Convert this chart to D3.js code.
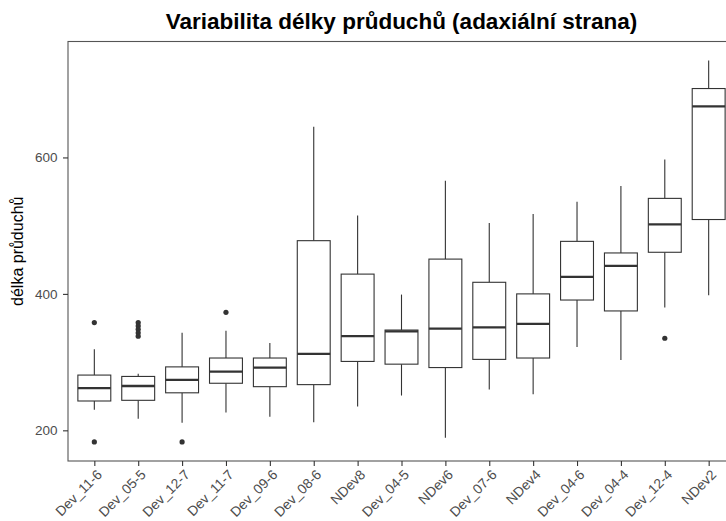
<!DOCTYPE html>
<html>
<head>
<meta charset="utf-8">
<script src="https://cdn.jsdelivr.net/npm/d3@7"></script>
<style>
  body { margin: 0; background: white; }
  text { font-family: "Liberation Sans", Arial, sans-serif; }
</style>
</head>
<body>
<script>
// box plot values
var categories = ["Dev_11-6", "Dev_05-5", "Dev_12-7", "Dev_11-7", "Dev_09-6", "Dev_08-6", "NDev8", "Dev_04-5",
                  "NDev6", "Dev_07-6", "NDev4", "Dev_04-6", "Dev_04-4", "Dev_12-4", "NDev2"];
var whiskerLow  = [230, 217, 211, 226, 220, 212, 235, 251, 189, 260, 253, 322, 303, 380, 398];
var q1          = [243, 244, 255, 269, 264, 267, 301, 297, 292, 304, 306, 391, 375, 461, 509];
var medians     = [262, 265, 274, 286, 292, 312, 338, 345, 349, 351, 356, 425, 441, 502, 675];
var q3          = [281, 279, 293, 306, 306, 478, 429, 347, 451, 417, 400, 477, 460, 540, 701];
var whiskerHigh = [319, 283, 343, 346, 328, 645, 515, 399, 566, 504, 517, 535, 558, 597, 742];
var outliers    = [[358, 183], [358, 353, 348, 343, 338], [183], [373], [], [], [], [],
                   [], [], [], [], [], [335], []];
var yTicks = [200, 400, 600];

var title = "Variabilita délky průduchů (adaxiální strana)";
var yTitle = "délka průduchů";

var w = 726, h = 521;
var panel = {left: 68, right: 735, top: 41.5, bottom: 461};

var svg = d3.select("body").append("svg")
            .attr("width", w)
            .attr("height", h);

// y range with the usual 5% expansion
var allValues = whiskerLow.concat(whiskerHigh, d3.merge(outliers));
var ext = d3.extent(allValues);
var pad = (ext[1] - ext[0]) * 0.05;
var yScale = d3.scaleLinear()
               .domain([ext[0] - pad, ext[1] + pad])
               .range([panel.bottom, panel.top]);

var xScale = d3.scalePoint()
               .domain(categories)
               .range([panel.left, panel.right])
               .padding(0.6);
var boxW = xScale.step() * 0.75;

var ink = "#333333";

// boxes
var boxes = svg.append("g").attr("class", "boxes")
  .selectAll("g")
  .data(categories)
  .enter()
  .append("g");

boxes.append("line")
  .attr("x1", d => xScale(d)).attr("x2", d => xScale(d))
  .attr("y1", (d, i) => yScale(whiskerHigh[i]))
  .attr("y2", (d, i) => yScale(q3[i]))
  .style("stroke", ink).style("stroke-width", 1.1);

boxes.append("line")
  .attr("x1", d => xScale(d)).attr("x2", d => xScale(d))
  .attr("y1", (d, i) => yScale(q1[i]))
  .attr("y2", (d, i) => yScale(whiskerLow[i]))
  .style("stroke", ink).style("stroke-width", 1.1);

boxes.append("rect")
  .attr("x", d => xScale(d) - boxW / 2)
  .attr("width", boxW)
  .attr("y", (d, i) => yScale(q3[i]))
  .attr("height", (d, i) => yScale(q1[i]) - yScale(q3[i]))
  .style("fill", "white")
  .style("stroke", ink)
  .style("stroke-width", 1.1);

boxes.append("line")
  .attr("x1", d => xScale(d) - boxW / 2).attr("x2", d => xScale(d) + boxW / 2)
  .attr("y1", (d, i) => yScale(medians[i]))
  .attr("y2", (d, i) => yScale(medians[i]))
  .style("stroke", ink).style("stroke-width", 2.3);

// outlier dots
boxes.each(function(d, i) {
  d3.select(this).selectAll("circle")
    .data(outliers[i])
    .enter()
    .append("circle")
    .attr("cx", xScale(d))
    .attr("cy", v => yScale(v))
    .attr("r", 2.6)
    .style("fill", ink);
});

// panel border
svg.append("rect")
   .attr("x", panel.left)
   .attr("y", panel.top)
   .attr("width", panel.right - panel.left)
   .attr("height", panel.bottom - panel.top)
   .style("fill", "none")
   .style("stroke", "#555555")
   .style("stroke-width", 1.1);

// axes
var yAxis = d3.axisLeft(yScale).tickValues(yTicks).tickSize(5).tickPadding(5.5);
var gy = svg.append("g")
  .attr("transform", "translate(" + panel.left + ",0)")
  .call(yAxis);
gy.select(".domain").remove();
gy.selectAll("line").style("stroke", ink).style("stroke-width", 1.1);
gy.selectAll("text").style("font-size", "13.5px").style("fill", "#4d4d4d");

var xAxis = d3.axisBottom(xScale).tickSize(5).tickPadding(2);
var gx = svg.append("g")
  .attr("transform", "translate(0," + panel.bottom + ")")
  .call(xAxis);
gx.select(".domain").remove();
gx.selectAll("line").style("stroke", ink).style("stroke-width", 1.1);
gx.selectAll("text")
  .style("font-size", "13.8px")
  .style("fill", "#4d4d4d")
  .style("text-anchor", "end")
  .attr("x", 0).attr("y", 0).attr("dy", 0)
  .attr("transform", "translate(8,14.5) rotate(-45)");

// titles
svg.append("text")
   .attr("x", (panel.left + panel.right) / 2)
   .attr("y", 28.5)
   .style("text-anchor", "middle")
   .style("font-size", "22.5px")
   .style("font-weight", "bold")
   .style("fill", "black")
   .text(title);

svg.append("text")
   .attr("transform", "translate(23," + (panel.top + panel.bottom) / 2 + ") rotate(-90)")
   .style("text-anchor", "middle")
   .style("font-size", "16px")
   .style("fill", "black")
   .text(yTitle);
</script>
</body>
</html>
